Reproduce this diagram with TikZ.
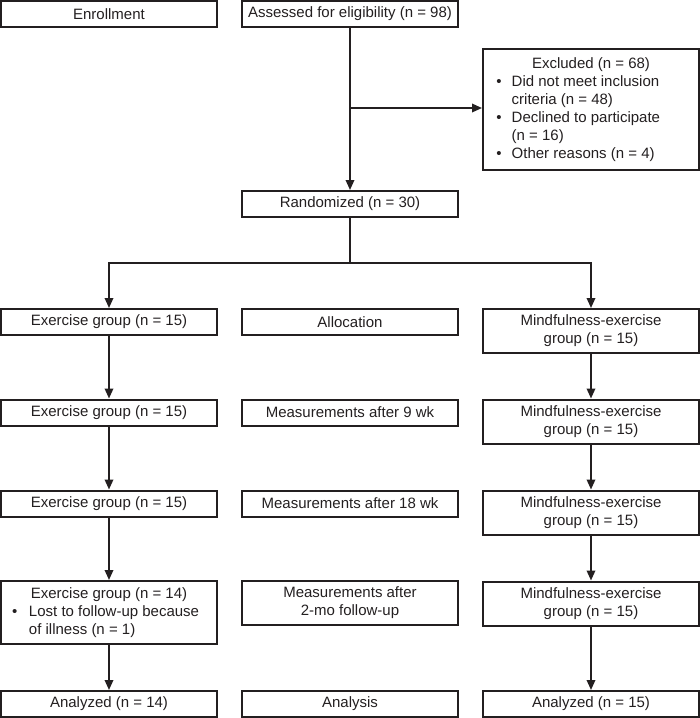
\documentclass[tikz,border=0pt]{standalone}
\usepackage{fontspec}
\setmainfont{Liberation Sans}
\usetikzlibrary{arrows.meta}
\definecolor{ink}{HTML}{231F20}
\newcommand\bitem[3]{\par\noindent\leftskip=#1\hangindent=#2\hangafter=1\makebox[#2][l]{\textbullet}#3}
\begin{document}
\begin{tikzpicture}[x=1pt,y=-1pt,
  box/.style={draw=ink, line width=2pt, inner sep=0pt, font=\fontsize{15}{18}\selectfont, text=ink, align=center, minimum width=216pt},
  arr/.style={draw=ink, line width=1.8pt, -{Triangle[length=10pt,width=8.5pt]}},
  ln/.style={draw=ink, line width=1.8pt}]
\useasboundingbox (0,0) rectangle (700,718);

% top
\node[box, minimum height=26pt] (enroll) at (109,14) {Enrollment};
\node[box, minimum height=26pt] (assess) at (350,14) {Assessed for eligibility (n = 98)};
\node[box, minimum height=121pt] (excl) at (591,109.5) {\parbox{216pt}{\centering Excluded (n = 68)\par
  \raggedright
  \bitem{13.4pt}{15.3pt}{Did not meet inclusion\newline criteria (n = 48)}
  \bitem{13.4pt}{15.3pt}{Declined to participate\newline (n = 16)}
  \bitem{13.4pt}{15.3pt}{Other reasons (n = 4)}\par}};
\node[box, minimum height=26pt] (rand) at (350,204) {Randomized (n = 30)};

% row 1
\node[box, minimum height=26pt] (ex1) at (109,322) {Exercise group (n = 15)};
\node[box, minimum height=26pt] (mid1) at (350,322) {Allocation};
\node[box, minimum height=44pt] (mf1) at (591,331) {Mindfulness-exercise\\group (n = 15)};
% row 2
\node[box, minimum height=26pt] (ex2) at (109,412.5) {Exercise group (n = 15)};
\node[box, minimum height=26pt] (mid2) at (350,412.5) {Measurements after 9 wk};
\node[box, minimum height=44pt] (mf2) at (591,421.5) {Mindfulness-exercise\\group (n = 15)};
% row 3
\node[box, minimum height=26pt] (ex3) at (109,503.5) {Exercise group (n = 15)};
\node[box, minimum height=26pt] (mid3) at (350,503.5) {Measurements after 18 wk};
\node[box, minimum height=44pt] (mf3) at (591,512.5) {Mindfulness-exercise\\group (n = 15)};
% row 4
\node[box, minimum height=63pt] (ex4) at (109,612.5) {\parbox{216pt}{\centering Exercise group (n = 14)\par
  \raggedright
  \bitem{11.1pt}{16.9pt}{Lost to follow-up because\newline of illness (n = 1)}\par}};
\node[box, minimum height=44pt] (mid4) at (350,603) {Measurements after\\2-mo follow-up};
\node[box, minimum height=44pt] (mf4) at (591,603.5) {Mindfulness-exercise\\group (n = 15)};
% row 5
\node[box, minimum height=26pt] (ex5) at (109,704) {Analyzed (n = 14)};
\node[box, minimum height=26pt] (mid5) at (350,704) {Analysis};
\node[box, minimum height=26pt] (mf5) at (591,704) {Analyzed (n = 15)};

% connectors
\coordinate (exclin) at (350,108);
\draw[arr] (assess.south) -- (rand.north);
\draw[arr] (exclin) -- (excl.west |- exclin);
\coordinate (split) at (350,263);
\draw[ln] (rand.south) -- (split);
\draw[arr] (split) -| (ex1.north);
\draw[arr] (split) -| (mf1.north);
\draw[arr] (ex1) -- (ex2);
\draw[arr] (ex2) -- (ex3);
\draw[arr] (ex3) -- (ex4);
\draw[arr] (ex4) -- (ex5);
\draw[arr] (mf1) -- (mf2);
\draw[arr] (mf2) -- (mf3);
\draw[arr] (mf3) -- (mf4);
\draw[arr] (mf4) -- (mf5);
\end{tikzpicture}
\end{document}
